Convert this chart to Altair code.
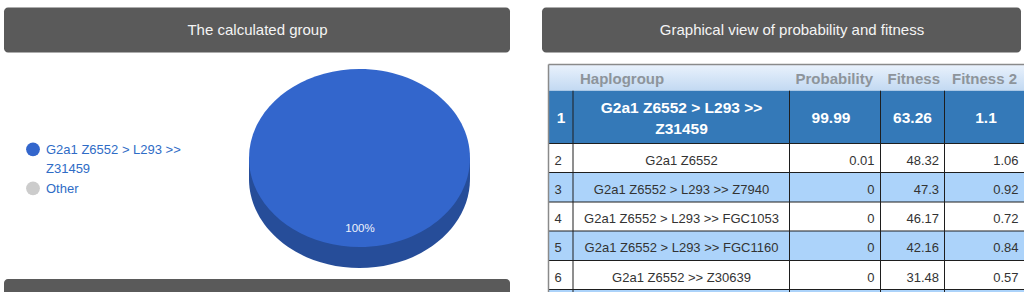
import altair as alt
import pandas as pd

# ---------------- data ----------------
panel_titles = ["The calculated group", "Graphical view of probability and fitness"]

pie_groups = ["G2a1 Z6552 > L293 >> Z31459", "Other"]
pie_share = [0.9999, 0.0001]
pie_colors = ["#3366cc", "#cccccc"]

ranks = [1, 2, 3, 4, 5, 6]
haplogroups = [
    "G2a1 Z6552 > L293 >> Z31459",
    "G2a1 Z6552",
    "G2a1 Z6552 > L293 >> Z7940",
    "G2a1 Z6552 > L293 >> FGC1053",
    "G2a1 Z6552 > L293 >> FGC1160",
    "G2a1 Z6552 >> Z30639",
]
probability = [99.99, 0.01, 0, 0, 0, 0]
fitness = [63.26, 48.32, 47.3, 46.17, 42.16, 31.48]
fitness_2 = [1.1, 1.06, 0.92, 0.72, 0.84, 0.57]
column_names = ["Haplogroup", "Probability", "Fitness", "Fitness 2"]

# ---------------- layout (pixels) ----------------
W, H = 1024, 292
FONT = "Liberation Sans"

XS = alt.Scale(domain=[0, W], range=[0, W], nice=False, zero=False)
YS = alt.Scale(domain=[0, H], range=[0, H], nice=False, zero=False)


def X(f):
    return alt.X(f"{f}:Q", scale=XS, axis=None)


def Y(f):
    return alt.Y(f"{f}:Q", scale=YS, axis=None)


def fmt(v):
    return f"{v:g}"


# panel header bars
bars = pd.DataFrame({"x": [4, 542, 4], "x2": [510, 1021, 510],
                     "y": [7.5, 7.5, 279], "y2": [52.5, 52.5, 330]})
bar_layer = alt.Chart(bars).mark_rect(color="#5a5a5a", cornerRadius=4).encode(
    x=X("x"), x2="x2", y=Y("y"), y2="y2")

titles = pd.DataFrame({"t": panel_titles, "x": [257.5, 792], "y": [29.5, 29.5]})
title_layer = alt.Chart(titles).mark_text(
    font=FONT, fontSize=15, color="#f4f4f4", baseline="middle", align="center"
).encode(x=X("x"), y=Y("y"), text="t:N")

# ---------------- 3D pie ----------------
PIE_CX, PIE_CY, PIE_RX, PIE_RY, PIE_DEPTH = 359.5, 158, 110.5, 89, 21
ry = PIE_RY / PIE_RX
d = PIE_DEPTH / PIE_RX
k = 0.5523
TOP_PATH = (f"M-1,0C-1,{-ry*k:.4f},{-k},{-ry:.4f},0,{-ry:.4f}"
            f"C{k},{-ry:.4f},1,{-ry*k:.4f},1,0"
            f"C1,{ry*k:.4f},{k},{ry:.4f},0,{ry:.4f}"
            f"C{-k},{ry:.4f},-1,{ry*k:.4f},-1,0Z")
SIDE_PATH = (f"M-1,0L-1,{d:.4f}"
             f"C-1,{d+ry*k:.4f},{-k},{d+ry:.4f},0,{d+ry:.4f}"
             f"C{k},{d+ry:.4f},1,{d+ry*k:.4f},1,{d:.4f}L1,0Z")
PIE_SIZE = (2 * PIE_RX) ** 2

pie = pd.DataFrame({"group": pie_groups, "share": pie_share})
pie["cx"] = PIE_CX
pie["cy"] = PIE_CY
pie["lx"] = 360
pie["ly"] = 228.5
color_scale = alt.Scale(domain=pie_groups, range=pie_colors)

pie_base = alt.Chart(pie).transform_filter("datum.share >= 0.995")
pie_side = pie_base.mark_point(shape=SIDE_PATH, size=PIE_SIZE, filled=True,
                               opacity=1, strokeWidth=0, color="#264d99").encode(
    x=X("cx"), y=Y("cy"))
pie_top = pie_base.mark_point(shape=TOP_PATH, size=PIE_SIZE, filled=True,
                              opacity=1, strokeWidth=0).encode(
    x=X("cx"), y=Y("cy"),
    color=alt.Color("group:N", scale=color_scale, legend=None))
pie_label = pie_base.transform_calculate(
    lab="format(datum.share, '.0%')"
).mark_text(font=FONT, fontSize=11.5, color="#eef2fb", baseline="middle").encode(
    x=X("lx"), y=Y("ly"), text="lab:N")

# legend
leg = pd.DataFrame({"group": pie_groups, "sx": [33, 33], "sy": [149.3, 188.3],
                    "tx": [46, 46], "ty": [154, 193]})
leg_sym = alt.Chart(leg).mark_point(shape="circle", size=190, filled=True,
                                    opacity=1, strokeWidth=0).encode(
    x=X("sx"), y=Y("sy"),
    color=alt.Color("group:N", scale=color_scale, legend=None))
leg_txt = alt.Chart(leg).transform_calculate(
    lab="replace(datum.group, '>> ', '>>\\n')"
).mark_text(font=FONT, fontSize=13, color="#2f6cc6", align="left",
            baseline="alphabetic", lineBreak="\n", lineHeight=18.5).encode(
    x=X("tx"), y=Y("ty"), text="lab:N")

# ---------------- table ----------------
T_LEFT, T_TOP, T_RIGHT = 548.5, 64.5, 1030
HEAD_BOTTOM = 90.7
row_top = [90.7, 143.5, 172.5, 202, 231, 260.5]
row_bottom = row_top[1:] + [289.5]
col_edges = [573, 789.5, 880.5, 944.5]

rows = pd.DataFrame({
    "rank": ranks,
    "hap": haplogroups,
    "prob": [fmt(v) for v in probability],
    "fit": [fmt(v) for v in fitness],
    "fit2": [fmt(v) for v in fitness_2],
    "top": row_top,
    "bottom": row_bottom,
})
rows["x0"] = T_LEFT
rows["x1"] = T_RIGHT
rows["mid"] = (rows["top"] + rows["bottom"]) / 2
rows["fill"] = ["#3479b8" if r == 1 else ("#ffffff" if r % 2 == 0 else "#acd3fa")
                for r in ranks]

# continuing rows below the visible area
more = pd.DataFrame({"x0": [T_LEFT], "x1": [T_RIGHT], "top": [289.5],
                     "bottom": [330], "fill": ["#acd3fa"]})
row_bg = alt.Chart(pd.concat([rows[["x0", "x1", "top", "bottom", "fill"]], more])).mark_rect().encode(
    x=X("x0"), x2="x1", y=Y("top"), y2="bottom",
    color=alt.Color("fill:N", scale=None))

head = pd.DataFrame({"x0": [T_LEFT], "x1": [T_RIGHT], "y0": [T_TOP], "y1": [HEAD_BOTTOM]})
head_bg = alt.Chart(head).mark_rect(
    color=alt.LinearGradient(gradient="linear", x1=0, x2=0, y1=0, y2=1,
                             stops=[alt.GradientStop(color="#eaf2fc", offset=0),
                                    alt.GradientStop(color="#c2d9f2", offset=1)])
).encode(x=X("x0"), x2="x1", y=Y("y0"), y2="y1")

hlines = pd.DataFrame({"y": row_bottom})
hlines["x0"] = T_LEFT
hlines["x1"] = T_RIGHT
hline_layer = alt.Chart(hlines).mark_rule(color="#1e1e1e", strokeWidth=1).encode(
    x=X("x0"), x2="x1", y=Y("y"))

vlines = pd.DataFrame({"x": col_edges})
vlines["y0"] = HEAD_BOTTOM
vlines["y1"] = 330
vline_layer = alt.Chart(vlines).mark_rule(color="#1e1e1e", strokeWidth=1).encode(
    x=X("x"), y=Y("y0"), y2="y1")

border = pd.DataFrame({"x": [T_LEFT, T_LEFT], "x2": [T_LEFT, T_RIGHT],
                       "y": [T_TOP, T_TOP], "y2": [330, T_TOP]})
border_layer = alt.Chart(border).mark_rule(color="#8a8a8a", strokeWidth=1.5).encode(
    x=X("x"), x2="x2", y=Y("y"), y2="y2")

heads = pd.DataFrame({"t": column_names, "x": [580, 873, 940, 1017],
                      "a": ["left", "right", "right", "right"], "y": [79] * 4})
head_txt = []
for al in ["left", "right"]:
    head_txt.append(
        alt.Chart(heads[heads["a"] == al]).mark_text(
            font=FONT, fontSize=15, fontWeight="bold", color="#8d949b",
            align=al, baseline="middle").encode(x=X("x"), y=Y("y"), text="t:N"))

# row 1 (selected) text
sel = rows[rows["rank"] == 1].copy()
sel_long = pd.DataFrame({
    "t": [str(sel["rank"].iloc[0]), sel["prob"].iloc[0], sel["fit"].iloc[0], sel["fit2"].iloc[0]],
    "x": [561, 831, 912.5, 986],
    "y": [118.2] * 4,
})
sel_num = alt.Chart(sel_long).mark_text(
    font=FONT, fontSize=15.5, fontWeight="bold", color="#ffffff", baseline="middle"
).encode(x=X("x"), y=Y("y"), text="t:N")
sel["hx"] = 681.5
sel["hy"] = 113.2
sel_hap = alt.Chart(sel).transform_calculate(
    lab="replace(datum.hap, '>> ', '>>\\n')"
).mark_text(font=FONT, fontSize=15.5, fontWeight="bold", color="#ffffff",
            baseline="alphabetic", lineBreak="\n", lineHeight=20.6).encode(
    x=X("hx"), y=Y("hy"), text="lab:N")

# regular rows text
reg = rows[rows["rank"] != 1].copy()
reg["ty"] = reg["mid"] + 2.5
cells = []
for field, xpos, al in [("rank", 554.5, "left"), ("hap", 681.5, "center"),
                        ("prob", 874.5, "right"), ("fit", 939, "right"),
                        ("fit2", 1018.5, "right")]:
    df = pd.DataFrame({"t": reg[field].astype(str), "y": reg["ty"]})
    df["x"] = xpos
    cells.append(alt.Chart(df).mark_text(
        font=FONT, fontSize=13, color="#333333", align=al, baseline="middle"
    ).encode(x=X("x"), y=Y("y"), text="t:N"))

chart = alt.layer(
    bar_layer, title_layer,
    pie_side, pie_top, pie_label, leg_sym, leg_txt,
    head_bg, row_bg, hline_layer, vline_layer, border_layer,
    *head_txt, sel_num, sel_hap, *cells,
).properties(
    width=W, height=H, padding=0, autosize="none", background="#ffffff"
).configure_view(stroke=None)

chart.save("out.html", embed_options={"renderer": "svg", "actions": False})
